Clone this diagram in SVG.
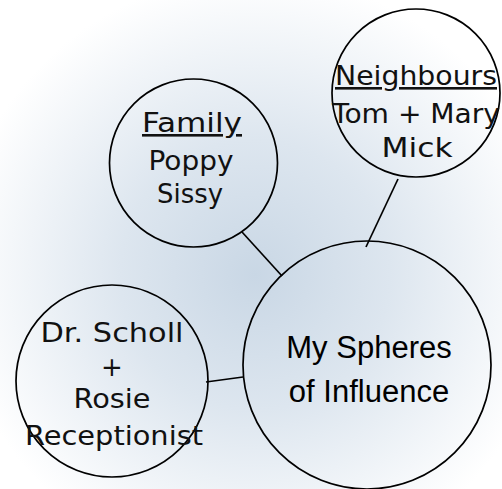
<svg xmlns="http://www.w3.org/2000/svg" width="502" height="489" viewBox="0 0 502 489">
<defs>
<radialGradient id="bg" cx="255" cy="275" r="300" gradientUnits="userSpaceOnUse">
<stop offset="0" stop-color="#c9d7e5"/>
<stop offset="0.45" stop-color="#dde6ef"/>
<stop offset="1" stop-color="#ffffff"/>
</radialGradient>
<style>
.c{fill:none;stroke:#000;stroke-width:1.7}
.e{stroke:#000;stroke-width:1.7;fill:none}
.h{font-family:"DejaVu Sans","Noto Sans",sans-serif;font-size:26px;fill:#111;text-anchor:middle}
.m{font-family:"Liberation Sans",Arial,sans-serif;font-size:31px;fill:#000;text-anchor:middle}
.u{text-decoration:underline}
</style>
</defs>
<rect width="502" height="489" fill="url(#bg)"/>
<g id="connectors">
<line class="e" x1="398" y1="179" x2="366" y2="247"/>
<line class="e" x1="242" y1="232" x2="282" y2="276"/>
<line class="e" x1="206" y1="382" x2="243" y2="377"/>
</g>
<g id="node-main">
<circle class="c" cx="367" cy="365" r="124"/>
<text class="m" x="369" y="358">My Spheres</text>
<text class="m" x="369" y="402">of Influence</text>
</g>
<g id="node-family">
<circle class="c" cx="193.5" cy="163" r="84"/>
<text class="h u" x="192" y="132" textLength="100" lengthAdjust="spacingAndGlyphs">Family</text>
<text class="h" x="191" y="170" textLength="85" lengthAdjust="spacingAndGlyphs">Poppy</text>
<text class="h" x="190" y="203" textLength="66" lengthAdjust="spacingAndGlyphs">Sissy</text>
</g>
<g id="node-neighbours">
<circle class="c" cx="416" cy="93" r="84"/>
<text class="h u" x="416" y="85" textLength="162" lengthAdjust="spacingAndGlyphs">Neighbours</text>
<text class="h" x="416" y="123" textLength="168" lengthAdjust="spacingAndGlyphs">Tom + Mary</text>
<text class="h" x="417" y="157" textLength="71" lengthAdjust="spacingAndGlyphs">Mick</text>
</g>
<g id="node-doctor">
<circle class="c" cx="112" cy="381" r="96"/>
<text class="h" x="112" y="342" textLength="143" lengthAdjust="spacingAndGlyphs">Dr. Scholl</text>
<text class="h" x="112" y="376">+</text>
<text class="h" x="112" y="408" textLength="77" lengthAdjust="spacingAndGlyphs">Rosie</text>
<text class="h" x="114" y="445" textLength="178" lengthAdjust="spacingAndGlyphs">Receptionist</text>
</g>
</svg>
